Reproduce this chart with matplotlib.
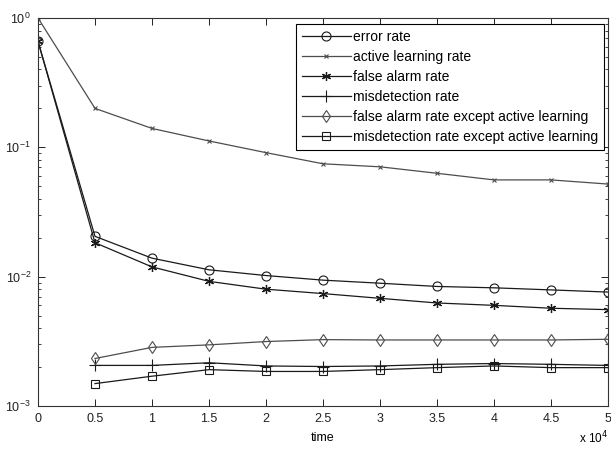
import matplotlib
matplotlib.use("Agg")
import matplotlib.pyplot as plt
import numpy as np

time = [0, 5000, 10000, 15000, 20000, 25000, 30000, 35000, 40000, 45000, 50000]
time_late = time[1:]

error_rate = [0.66, 0.0205, 0.0139, 0.0113, 0.0102, 0.0094, 0.0089, 0.0084, 0.0082, 0.0079, 0.0076]
active_learning_rate = [1.0, 0.20, 0.14, 0.112, 0.091, 0.0746, 0.0707, 0.063, 0.056, 0.056, 0.052]
false_alarm_rate = [0.66, 0.0183, 0.0119, 0.0092, 0.0080, 0.0074, 0.0068, 0.00626, 0.0060, 0.0057, 0.00556]
misdetection_rate = [0.00206, 0.00206, 0.00216, 0.00204, 0.00202, 0.00204, 0.0021, 0.00213, 0.0021, 0.00206]
fa_except_al = [0.00233, 0.00284, 0.00297, 0.00315, 0.00326, 0.00324, 0.00324, 0.00324, 0.00324, 0.00328]
md_except_al = [0.00149, 0.0017, 0.00191, 0.00185, 0.00185, 0.00191, 0.00198, 0.00204, 0.00198, 0.00198]

labels = ["error rate", "active learning rate", "false alarm rate", "misdetection rate",
          "false alarm rate except active learning", "misdetection rate except active learning"]
xtick_labels = ["0", "0.5", "1", "1.5", "2", "2.5", "3", "3.5", "4", "4.5", "5"]

plt.rcParams['font.family'] = ['Liberation Sans', 'DejaVu Sans']
fig = plt.figure(figsize=(6.11, 4.49), dpi=100)
ax = fig.add_axes([38/611, 1-406/449, (608-38)/611, (406-18)/449])

lw = 0.9
dark = '#1a1a1a'
gray = '#4d4d4d'
ax.plot(time, error_rate, color=dark, lw=lw, marker='o', ms=6.5, mfc='none', mec=dark, mew=0.8, label=labels[0])
ax.plot(time, active_learning_rate, color=gray, lw=lw, marker='x', ms=3.5, mec=gray, mew=0.8, label=labels[1])
ax.plot(time, false_alarm_rate, color=dark, lw=lw, marker=(6, 2, 0), ms=6.5, mec=dark, mew=0.9, label=labels[2])
ax.plot(time_late, misdetection_rate, color=dark, lw=lw, marker='+', ms=8, mec=dark, mew=0.8, label=labels[3])
ax.plot(time_late, fa_except_al, color=gray, lw=lw, marker='d', ms=6.5, mfc='none', mec=gray, mew=0.8, label=labels[4])
ax.plot(time_late, md_except_al, color=dark, lw=lw, marker='s', ms=6, mfc='none', mec=dark, mew=0.8, label=labels[5])

ax.set_yscale('log')
ax.set_ylim(1e-3, 1)
ax.set_xlim(0, 50000)
ax.set_xticks(time)
ax.set_xticklabels(xtick_labels)
ax.tick_params(which='both', direction='in', top=True, right=True, labelsize=9, colors='#222')
ax.tick_params(which='major', length=5, width=0.7, pad=5)
ax.tick_params(which='minor', length=2.5, width=0.6)
for s in ax.spines.values():
    s.set_linewidth(0.8)
    s.set_color('#333')
ax.set_xlabel("time", fontsize=9, labelpad=5)
fig.text(608/611, 1-430/449, r"x 10$^4$", fontsize=8.5, ha='right', va='top')

leg = ax.legend(loc='upper right', bbox_to_anchor=(604/611, 1-24/449), bbox_transform=fig.transFigure,
                fontsize=10, frameon=True, fancybox=False, edgecolor='black', framealpha=1,
                borderpad=0.4, labelspacing=0.44, handlelength=3.5, handletextpad=0.2, borderaxespad=0)
leg.get_frame().set_linewidth(0.8)

fig.savefig("out.png", dpi=100)
